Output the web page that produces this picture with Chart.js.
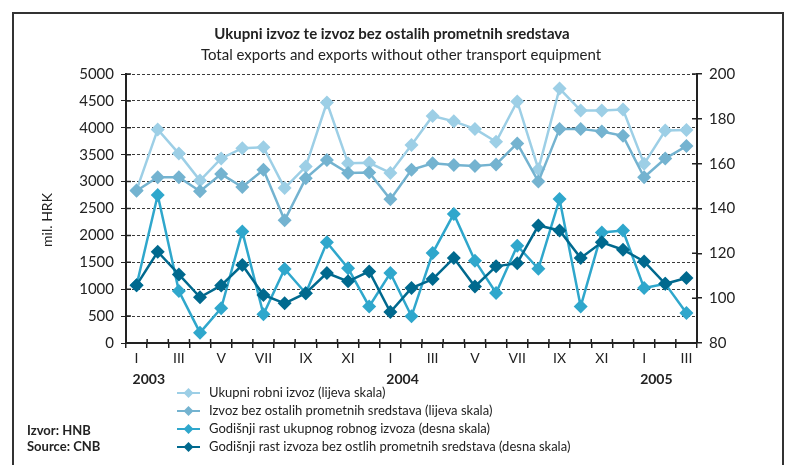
<!DOCTYPE html>
<html>
<head>
<meta charset="utf-8">
<script src="https://cdn.jsdelivr.net/npm/chart.js@4/dist/chart.umd.min.js"></script>
<style>
  html, body { margin: 0; padding: 0; background: #fff; }
  #wrap { width: 785px; height: 465px; position: relative; }
</style>
</head>
<body>
<div id="wrap"><canvas id="exportChart" width="785" height="465"></canvas></div>
<script>
// months 2003 I .. 2005 III
var months = ['I','II','III','IV','V','VI','VII','VIII','IX','X','XI','XII',
              'I','II','III','IV','V','VI','VII','VIII','IX','X','XI','XII',
              'I','II','III'];
var years = ['2003', '2004', '2005'];
var yearStart = [0, 12, 24];

// lijeva skala, mil. HRK
var ukupniIzvoz = [2840, 3970, 3520, 3020, 3430, 3620, 3640, 2880, 3280, 4470, 3340, 3350, 3160, 3680,
                   4220, 4120, 3980, 3740, 4490, 3230, 4730, 4320, 4320, 4340, 3330, 3950, 3960];
var izvozBezOstalih = [2830, 3080, 3080, 2820, 3140, 2900, 3220, 2280, 3060, 3400, 3160, 3170, 2670, 3220,
                       3340, 3310, 3290, 3320, 3710, 3000, 3980, 3980, 3930, 3850, 3080, 3430, 3660];
// desna skala, indeksi
var rastUkupnog = [105.8, 146.0, 103.2, 84.6, 95.5, 129.7, 92.8, 113.0, 102.2, 124.9, 113.4, 96.3, 111.2, 91.9,
                   120.1, 137.6, 116.7, 102.3, 123.4, 113.1, 144.2, 96.3, 129.3, 130.2, 104.5, 106.4, 93.4];
var rastBezOstalih = [105.8, 120.7, 110.6, 100.4, 105.7, 114.8, 101.4, 97.7, 102.2, 111.2, 107.5, 111.9, 93.8, 104.5,
                      108.5, 117.9, 105.2, 114.2, 115.6, 132.4, 130.2, 117.9, 124.9, 121.6, 116.4, 106.4, 109.0];

var seriesLabels = [
    'Ukupni robni izvoz (lijeva skala)',
    'Izvoz bez ostalih prometnih sredstava (lijeva skala)',
    'Godišnji rast ukupnog robnog izvoza (desna skala)',
    'Godišnji rast izvoza bez ostlih prometnih sredstava (desna skala)'
];
var colors = ['#9dcfe6', '#74b3d0', '#2fa7cc', '#00698e'];

var FONT = 'Lato, "Open Sans", sans-serif';
var INK = '#222';

function makeSet(i, data, axis) {
    return {
        label: seriesLabels[i],
        data: data,
        yAxisID: axis,
        borderColor: colors[i],
        backgroundColor: colors[i],
        borderWidth: 2.5,
        pointStyle: 'rectRot',
        pointRadius: 7,
        pointBorderWidth: 0,
        tension: 0,
        order: 4 - i
    };
}

// frame, titles, year labels, crossing ticks, legend, source
var decorPlugin = {
    id: 'decor',
    afterDraw: function (chart) {
        var ctx = chart.ctx;
        var x = chart.scales.x, yl = chart.scales.y, yr = chart.scales.y1;
        ctx.save();

        // frame
        ctx.strokeStyle = '#333';
        ctx.lineWidth = 2;
        ctx.beginPath();
        ctx.moveTo(13, 465);
        ctx.lineTo(13, 13);
        ctx.lineTo(783, 13);
        ctx.lineTo(783, 465);
        ctx.stroke();

        // titles
        ctx.fillStyle = INK;
        ctx.textAlign = 'center';
        ctx.textBaseline = 'middle';
        ctx.font = 'bold 15px ' + FONT;
        ctx.fillText('Ukupni izvoz te izvoz bez ostalih prometnih sredstava', 392, 34);
        ctx.font = '15px ' + FONT;
        ctx.fillText('Total exports and exports without other transport equipment', 401, 55);

        // axis title
        ctx.save();
        ctx.translate(47, 220);
        ctx.rotate(-Math.PI / 2);
        ctx.font = '14px ' + FONT;
        ctx.fillText('mil. HRK', 0, 0);
        ctx.restore();

        // inner halves of tick marks
        ctx.strokeStyle = INK;
        ctx.lineWidth = 1.5;
        ctx.beginPath();
        yl.ticks.forEach(function (t) {
            var py = yl.getPixelForValue(t.value);
            ctx.moveTo(yl.right, py);
            ctx.lineTo(yl.right + 5, py);
        });
        yr.ticks.forEach(function (t) {
            var py = yr.getPixelForValue(t.value);
            ctx.moveTo(yr.left - 5, py);
            ctx.lineTo(yr.left, py);
        });
        for (var i = 0; i <= months.length; i++) {
            var px = x.left + (x.right - x.left) * i / months.length;
            ctx.moveTo(px, x.top - 4);
            ctx.lineTo(px, x.top);
        }
        ctx.stroke();

        // years
        ctx.font = 'bold 14px ' + FONT;
        ctx.textAlign = 'left';
        years.forEach(function (yr, k) {
            ctx.fillText(yr, x.getPixelForValue(yearStart[k]) - 4, 379);
        });

        // legend
        ctx.font = '13px ' + FONT;
        seriesLabels.forEach(function (lab, k) {
            var ly = 393 + k * 18;
            ctx.strokeStyle = colors[k];
            ctx.fillStyle = colors[k];
            ctx.lineWidth = 2;
            ctx.beginPath();
            ctx.moveTo(177, ly);
            ctx.lineTo(200, ly);
            ctx.stroke();
            ctx.beginPath();
            ctx.moveTo(188.5, ly - 5);
            ctx.lineTo(193.5, ly);
            ctx.lineTo(188.5, ly + 5);
            ctx.lineTo(183.5, ly);
            ctx.closePath();
            ctx.fill();
            ctx.fillStyle = INK;
            ctx.fillText(lab, 209, ly);
        });

        // source
        ctx.font = 'bold 13px ' + FONT;
        ctx.fillText('Izvor: HNB', 27, 431);
        ctx.fillText('Source: CNB', 27, 447);

        ctx.restore();
    }
};

var ctx = document.getElementById('exportChart').getContext('2d');
var exportChart = new Chart(ctx, {
    type: 'line',
    data: {
        labels: months,
        datasets: [
            makeSet(0, ukupniIzvoz, 'y'),
            makeSet(1, izvozBezOstalih, 'y'),
            makeSet(2, rastUkupnog, 'y1'),
            makeSet(3, rastBezOstalih, 'y1')
        ]
    },
    options: {
        responsive: false,
        animation: false,
        devicePixelRatio: 1,
        layout: { padding: { left: 0, right: 38, top: 74, bottom: 0 } },
        plugins: {
            legend: { display: false },
            tooltip: { enabled: false },
            title: { display: false }
        },
        scales: {
            x: {
                offset: true,
                afterFit: function (scale) { scale.height = 122; },
                border: { color: INK, width: 2 },
                grid: {
                    offset: true,
                    drawOnChartArea: false,
                    drawTicks: true,
                    tickLength: 5,
                    color: INK,
                    lineWidth: 1.5
                },
                ticks: {
                    autoSkip: false,
                    maxRotation: 0,
                    padding: 2,
                    color: INK,
                    font: { family: FONT, size: 14 },
                    callback: function (val, idx) {
                        return idx % 2 === 0 ? months[idx] : '';
                    }
                }
            },
            y: {
                position: 'left',
                min: 0,
                max: 5000,
                afterFit: function (scale) { scale.width = 126; },
                // in v4 border.dash styles the grid lines
                border: { color: INK, width: 2, dash: [3, 2] },
                grid: {
                    color: '#3a3a3a',
                    lineWidth: 1,
                    tickColor: INK,
                    tickLength: 5,
                    tickBorderDash: [],
                    drawTicks: true
                },
                ticks: {
                    stepSize: 500,
                    padding: 7,
                    color: INK,
                    font: { family: FONT, size: 15 },
                    callback: function (val) { return String(val); }
                }
            },
            y1: {
                position: 'right',
                min: 80,
                max: 200,
                afterFit: function (scale) { scale.width = 50; },
                border: { color: INK, width: 2 },
                grid: {
                    drawOnChartArea: false,
                    color: INK,
                    tickLength: 5,
                    lineWidth: 1.5
                },
                ticks: {
                    stepSize: 20,
                    padding: 7,
                    color: INK,
                    font: { family: FONT, size: 15 }
                }
            }
        }
    },
    plugins: [decorPlugin]
});
</script>
</body>
</html>
